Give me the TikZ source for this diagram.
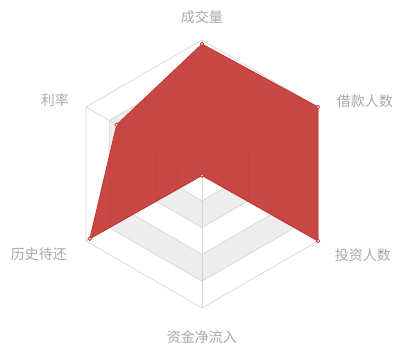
\documentclass[tikz,border=0pt]{standalone}
\usepackage{fontspec}
\newfontfamily\cjk{Noto Sans CJK SC}
\definecolor{gridgray}{HTML}{D6D6D6}
\definecolor{bandgray}{HTML}{EDEDED}
\definecolor{labelgray}{HTML}{A8A8A8}
\definecolor{radarred}{HTML}{C23531}
\tikzset{
  axisname/.style={text=labelgray,font=\cjk\fontsize{14}{16}\selectfont,inner sep=0pt},
  datadot/.style={draw=radarred,fill=white,line width=0.8pt},
}
\begin{document}
\begin{tikzpicture}[x=1pt,y=1pt]
            \useasboundingbox (-202,-172) rectangle (195,174);
            % split areas and split lines
            \foreach \r/\c in {134/white,107.2/bandgray,80.4/white,53.6/bandgray,26.8/white}
                \filldraw[fill=\c,draw=gridgray,line width=0.7pt] (90:\r) -- (30:\r) -- (-30:\r) -- (-90:\r) -- (-150:\r) -- (150:\r) -- cycle;
            \coordinate (O) at (0,0);
            \foreach \a in {90,30,-30,-90,-150,150}
                \draw[gridgray,line width=0.7pt] (O) -- (\a:134);
            % data
            \coordinate (cjl) at (90:130);
            \coordinate (jkrs) at (30:134);
            \coordinate (tzrs) at (-30:134);
            \coordinate (zjjlr) at (-90:1.5);
            \coordinate (lsdh) at (-150:129.5);
            \coordinate (ll) at (150:98.5);
            \draw[radarred,fill=radarred,fill opacity=0.9,line width=0.8pt] (cjl) -- (jkrs) -- (tzrs) -- (zjjlr) -- (lsdh) -- (ll) -- cycle;
            \foreach \p in {cjl,jkrs,tzrs,zjjlr,lsdh,ll}
                \draw[datadot] (\p) circle (1.8);
            % axis names
            \node[axisname] (ncjl) at (0,157) {成交量};
            \node[axisname] (njkrs) at (163,73) {借款人数};
            \node[axisname] (ntzrs) at (161,-81) {投资人数};
            \node[axisname] (nzjjlr) at (0,-163) {资金净流入};
            \node[axisname] (nlsdh) at (-163,-80) {历史待还};
            \node[axisname] (nll) at (-147,74) {利率};
        \end{tikzpicture}
\end{document}
